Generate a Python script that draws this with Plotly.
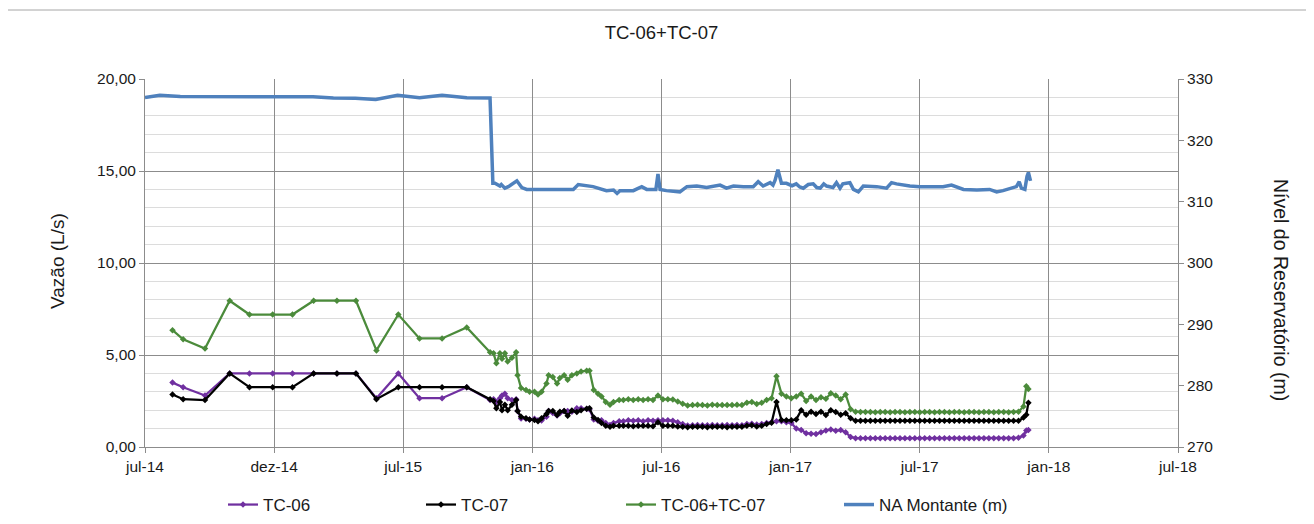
import plotly.graph_objects as go

# ---------------- data ----------------
flow_dates = [
    "2014-08-09", "2014-08-24", "2014-09-24", "2014-10-29", "2014-11-26", "2014-12-29", "2015-01-26", "2015-02-25",
    "2015-03-30", "2015-04-26", "2015-05-25", "2015-06-25", "2015-07-25", "2015-08-26", "2015-09-30", "2015-11-02",
    "2015-11-07", "2015-11-11", "2015-11-16", "2015-11-19", "2015-11-23", "2015-11-27", "2015-12-03", "2015-12-09",
    "2015-12-11", "2015-12-16", "2015-12-23", "2015-12-28", "2016-01-04", "2016-01-09", "2016-01-14", "2016-01-21",
    "2016-01-24", "2016-01-30", "2016-02-05", "2016-02-09", "2016-02-15", "2016-02-20", "2016-02-26", "2016-03-04",
    "2016-03-10", "2016-03-18", "2016-03-22", "2016-03-28", "2016-04-03", "2016-04-08", "2016-04-14", "2016-04-20",
    "2016-04-25", "2016-05-03",
    "2016-05-09", "2016-05-16", "2016-05-23", "2016-05-30", "2016-06-06", "2016-06-13", "2016-06-20", "2016-06-27",
    "2016-07-04", "2016-07-11", "2016-07-18", "2016-07-25", "2016-08-01", "2016-08-08", "2016-08-15", "2016-08-22",
    "2016-08-29", "2016-09-05", "2016-09-12", "2016-09-19", "2016-09-26", "2016-10-03", "2016-10-10", "2016-10-17",
    "2016-10-24", "2016-10-31", "2016-11-07", "2016-11-14", "2016-11-21", "2016-11-28", "2016-12-05", "2016-12-12",
    "2016-12-19", "2016-12-26", "2017-01-02", "2017-01-09", "2017-01-16", "2017-01-23", "2017-01-30", "2017-02-06",
    "2017-02-13", "2017-02-20", "2017-02-27", "2017-03-06", "2017-03-13", "2017-03-20", "2017-03-27", "2017-04-03",
    "2017-04-10", "2017-04-17", "2017-04-24", "2017-05-01", "2017-05-08", "2017-05-15", "2017-05-22", "2017-05-29",
    "2017-06-05", "2017-06-12", "2017-06-19", "2017-06-26", "2017-07-03", "2017-07-10", "2017-07-17", "2017-07-24",
    "2017-07-31", "2017-08-07", "2017-08-14", "2017-08-21", "2017-08-28", "2017-09-04", "2017-09-11", "2017-09-18",
    "2017-09-25", "2017-10-02", "2017-10-09", "2017-10-16", "2017-10-23", "2017-10-30", "2017-11-06", "2017-11-13",
    "2017-11-20", "2017-11-27", "2017-12-01", "2017-12-04",
]

tc06 = [
    3.50, 3.25, 2.80, 4.00, 4.00, 4.00, 4.00, 4.00,
    4.00, 4.00, 2.65, 4.00, 2.65, 2.65, 3.25, 2.55,
    2.60, 2.45, 2.65, 2.80, 2.90, 2.65, 2.55, 2.60,
    1.95, 1.55, 1.54, 1.50, 1.53, 1.45, 1.44, 1.65,
    1.95, 1.85, 1.71, 1.83, 1.95, 1.95, 1.92, 2.10,
    2.10, 2.07, 2.05, 1.50, 1.43, 1.45, 1.30, 1.20,
    1.30, 1.40,
    1.40, 1.45, 1.42, 1.45, 1.40, 1.45, 1.43, 1.45,
    1.45, 1.45, 1.43, 1.35, 1.25, 1.17, 1.18, 1.20,
    1.18, 1.18, 1.20, 1.18, 1.18, 1.20, 1.18, 1.20,
    1.18, 1.25, 1.27, 1.22, 1.25, 1.30, 1.35, 1.40,
    1.40, 1.35, 1.30, 1.00, 0.92, 0.75, 0.72, 0.70,
    0.80, 0.90, 0.95, 0.88, 0.92, 0.80, 0.55, 0.48,
    0.48, 0.47, 0.48, 0.47, 0.48, 0.48, 0.47, 0.48,
    0.48, 0.47, 0.48, 0.48, 0.47, 0.48, 0.48, 0.47,
    0.48, 0.48, 0.47, 0.48, 0.48, 0.47, 0.48, 0.48,
    0.47, 0.48, 0.48, 0.47, 0.48, 0.48, 0.47, 0.48,
    0.50, 0.62, 0.90, 0.92,
]

tc07 = [
    2.85, 2.60, 2.55, 4.00, 3.25, 3.25, 3.25, 4.00,
    4.00, 4.00, 2.60, 3.25, 3.25, 3.25, 3.25, 2.60,
    2.50, 2.10, 2.45, 2.00, 2.30, 2.00, 2.30, 2.55,
    1.95, 1.65, 1.56, 1.50, 1.47, 1.40, 1.56, 1.80,
    1.95, 1.95, 1.74, 1.92, 1.95, 1.70, 1.98, 1.90,
    2.00, 2.08, 2.10, 1.60, 1.47, 1.30, 1.15, 1.10,
    1.15, 1.15,
    1.15, 1.15, 1.13, 1.15, 1.15, 1.15, 1.13, 1.35,
    1.15, 1.15, 1.15, 1.12, 1.10, 1.08, 1.10, 1.10,
    1.10, 1.08, 1.10, 1.10, 1.10, 1.08, 1.10, 1.10,
    1.10, 1.15, 1.18, 1.12, 1.15, 1.25, 1.32, 2.45,
    1.47, 1.45, 1.45, 1.50, 2.00, 1.75, 1.92, 1.80,
    1.92, 1.74, 2.00, 1.90, 1.75, 1.83, 1.56, 1.43,
    1.42, 1.43, 1.42, 1.42, 1.43, 1.42, 1.42, 1.43,
    1.42, 1.42, 1.43, 1.42, 1.42, 1.43, 1.42, 1.42,
    1.43, 1.42, 1.42, 1.43, 1.42, 1.42, 1.43, 1.42,
    1.42, 1.43, 1.42, 1.42, 1.43, 1.42, 1.42, 1.43,
    1.42, 1.60, 1.75, 2.40,
]

tc06_tc07 = [
    6.35, 5.85, 5.35, 7.95, 7.20, 7.20, 7.20, 7.95,
    7.95, 7.95, 5.25, 7.20, 5.90, 5.90, 6.50, 5.15,
    5.10, 4.55, 5.10, 4.80, 5.10, 4.65, 4.85, 5.15,
    3.90, 3.20, 3.10, 3.00, 3.00, 2.85, 3.00, 3.45,
    3.90, 3.80, 3.45, 3.75, 3.90, 3.65, 3.90, 4.00,
    4.10, 4.15, 4.15, 3.10, 2.90, 2.75, 2.45, 2.30,
    2.45, 2.55,
    2.55, 2.60, 2.55, 2.60, 2.55, 2.60, 2.56, 2.80,
    2.60, 2.60, 2.58, 2.47, 2.35, 2.25, 2.28, 2.30,
    2.28, 2.26, 2.30, 2.28, 2.28, 2.28, 2.28, 2.30,
    2.28, 2.40, 2.45, 2.34, 2.40, 2.55, 2.65, 3.85,
    2.90, 2.75, 2.65, 2.75, 2.90, 2.50, 2.75, 2.55,
    2.70, 2.62, 2.92, 2.80, 2.60, 2.85, 2.05, 1.92,
    1.90, 1.90, 1.90, 1.89, 1.90, 1.90, 1.89, 1.90,
    1.90, 1.89, 1.90, 1.90, 1.89, 1.90, 1.90, 1.89,
    1.90, 1.90, 1.89, 1.90, 1.90, 1.89, 1.90, 1.90,
    1.89, 1.90, 1.90, 1.89, 1.90, 1.90, 1.89, 1.90,
    1.92, 2.20, 3.30, 3.15,
]

na_dates = [
    "2014-07-01", "2014-07-22", "2014-08-20", "2014-10-15", "2015-02-24", "2015-03-25", "2015-04-25", "2015-05-24",
    "2015-06-24", "2015-07-25", "2015-08-26", "2015-09-30", "2015-11-02", "2015-11-06", "2015-11-09", "2015-11-16",
    "2015-11-18", "2015-11-23", "2015-11-28", "2015-12-10", "2015-12-17", "2015-12-24", "2016-02-28", "2016-03-06",
    "2016-03-18", "2016-03-27", "2016-04-15", "2016-04-25", "2016-04-30", "2016-05-04", "2016-05-23", "2016-06-04",
    "2016-06-11", "2016-06-24", "2016-06-27", "2016-06-30", "2016-07-09", "2016-07-28", "2016-08-07", "2016-08-21",
    "2016-09-04", "2016-09-23", "2016-10-02", "2016-10-12", "2016-10-26", "2016-11-09", "2016-11-16", "2016-11-23",
    "2016-12-03", "2016-12-07", "2016-12-10", "2016-12-14", "2016-12-19", "2016-12-26", "2017-01-03", "2017-01-09",
    "2017-01-14", "2017-01-19", "2017-01-26", "2017-02-02", "2017-02-07", "2017-02-12", "2017-02-17", "2017-02-21",
    "2017-03-02", "2017-03-07", "2017-03-12", "2017-03-16", "2017-03-21", "2017-03-26", "2017-03-31", "2017-04-07",
    "2017-04-14", "2017-04-23", "2017-05-03", "2017-05-17", "2017-05-24", "2017-05-31", "2017-06-19", "2017-07-03",
    "2017-08-05", "2017-08-17", "2017-09-03", "2017-09-22", "2017-10-10", "2017-10-20", "2017-10-29", "2017-11-17",
    "2017-11-21", "2017-11-24", "2017-11-29", "2017-12-02", "2017-12-04", "2017-12-07",
]

na_montante = [
    327.00, 327.35, 327.15, 327.10, 327.10, 326.90, 326.85, 326.65,
    327.35, 326.95, 327.35, 326.95, 326.90, 313.00, 313.00, 312.55,
    312.80, 312.20, 312.45, 313.40, 312.30, 312.00, 312.00, 312.80,
    312.55, 312.45, 311.80, 311.90, 311.35, 311.80, 311.80, 312.45,
    312.00, 312.00, 314.50, 312.00, 311.80, 311.60, 312.45, 312.55,
    312.30, 312.70, 312.20, 312.55, 312.45, 312.45, 313.25, 312.55,
    313.10, 312.70, 313.50, 315.20, 313.00, 313.00, 312.60, 312.90,
    312.40, 312.20, 312.80, 312.90, 312.30, 312.20, 312.90, 312.55,
    312.30, 313.10, 312.20, 312.90, 313.00, 313.10, 312.00, 311.60,
    312.55, 312.55, 312.45, 312.20, 313.10, 312.90, 312.55, 312.45,
    312.45, 312.70, 312.00, 311.90, 312.00, 311.60, 311.80, 312.45,
    313.25, 312.20, 312.00, 314.10, 314.75, 313.40,
]

x_tick_vals = ["2014-07-01", "2014-12-31", "2015-07-02", "2016-01-01", "2016-07-02",
               "2017-01-01", "2017-07-03", "2018-01-02", "2018-07-04"]
x_tick_text = ["jul-14", "dez-14", "jul-15", "jan-16", "jul-16", "jan-17", "jul-17", "jan-18", "jul-18"]
y_tick_vals = [0, 5, 10, 15, 20]
y_tick_text = ["0,00", "5,00", "10,00", "15,00", "20,00"]
y2_tick_vals = [270, 280, 290, 300, 310, 320, 330]
y2_tick_text = ["270", "280", "290", "300", "310", "320", "330"]

# ---------------- figure ----------------
FONT = "Liberation Sans, Arial, sans-serif"
TXT = "#1a1a1a"
AXIS = "#8c8c8c"
MINOR = "#dcdcdc"

fig = go.Figure()
fig.add_trace(go.Scatter(x=flow_dates, y=tc06, name="TC-06", mode="lines+markers",
                         line=dict(color="#7030A0", width=2.25),
                         marker=dict(symbol="diamond", size=5, color="#7030A0"),
                         legend="legend"))
fig.add_trace(go.Scatter(x=flow_dates, y=tc07, name="TC-07", mode="lines+markers",
                         line=dict(color="#000000", width=2.25),
                         marker=dict(symbol="diamond", size=5, color="#000000"),
                         legend="legend2"))
fig.add_trace(go.Scatter(x=flow_dates, y=tc06_tc07, name="TC-06+TC-07", mode="lines+markers",
                         line=dict(color="#4B8B3B", width=2.25),
                         marker=dict(symbol="diamond", size=5, color="#4B8B3B"),
                         legend="legend3"))
fig.add_trace(go.Scatter(x=na_dates, y=na_montante, name="NA Montante (m)", mode="lines",
                         line=dict(color="#4F81BD", width=3.5), yaxis="y2",
                         legend="legend4"))

# page body has an 8px default margin: the figure is offset by (8, 8)
OX, OY = 8, 8
W, H = 1306, 516
L, T = 145 - OX, 79 - OY
pw, ph = 1178 - 145, 447 - 79
R = W - L - pw
B = H - T - ph


def px(xp):
    return (xp - OX - L) / pw


def py(yp):
    return (T + ph - (yp - OY)) / ph


leg_y = py(505)
leg_common = dict(orientation="h", yanchor="middle", xanchor="left", y=leg_y,
                  font=dict(family=FONT, size=17, color=TXT), bgcolor="rgba(0,0,0,0)")

fig.update_layout(
    width=W, height=H,
    margin=dict(l=L, r=R, t=T, b=B, autoexpand=False),
    paper_bgcolor="white", plot_bgcolor="white",
    font=dict(family=FONT, size=15, color=TXT),
    title=dict(text="TC-06+TC-07", x=0.5, xref="paper", xanchor="center",
               y=1 - (33 - OY) / H, yref="container", yanchor="middle",
               font=dict(family=FONT, size=18.5, color=TXT)),
    xaxis=dict(type="date", range=["2014-07-01", "2018-07-04"],
               tickmode="array", tickvals=x_tick_vals, ticktext=x_tick_text,
               showgrid=True, gridcolor=AXIS, gridwidth=1,
               showline=True, linecolor=AXIS, linewidth=1,
               ticks="outside", ticklen=5, tickcolor=AXIS,
               tickfont=dict(family=FONT, size=15.5, color=TXT), zeroline=False),
    yaxis=dict(range=[0, 20], tickmode="array", tickvals=y_tick_vals, ticktext=y_tick_text,
               showgrid=True, gridcolor=AXIS, gridwidth=1,
               minor=dict(tickmode="linear", tick0=0, dtick=1, showgrid=True,
                          gridcolor=MINOR, gridwidth=1, ticks=""),
               showline=True, linecolor=AXIS, linewidth=1,
               ticks="outside", ticklen=5, tickcolor=AXIS,
               tickfont=dict(family=FONT, size=15.5, color=TXT), zeroline=False),
    yaxis2=dict(range=[270, 330], overlaying="y", side="right",
                tickmode="array", tickvals=y2_tick_vals, ticktext=y2_tick_text,
                showgrid=False, showline=True, linecolor=AXIS, linewidth=1,
                ticks="outside", ticklen=5, tickcolor=AXIS,
                tickfont=dict(family=FONT, size=15.5, color=TXT), zeroline=False),
    legend=dict(x=px(223), **leg_common),
    legend2=dict(x=px(421), **leg_common),
    legend3=dict(x=px(621), **leg_common),
    legend4=dict(x=px(839), **leg_common),
    annotations=[
        dict(text="Vazão (L/s)", xref="paper", yref="paper", x=px(57), y=py(261),
             textangle=-90, showarrow=False, xanchor="center", yanchor="middle",
             font=dict(family=FONT, size=19, color=TXT)),
        dict(text="Nível do Reservatório (m)", xref="paper", yref="paper", x=px(1281), y=py(290),
             textangle=90, showarrow=False, xanchor="center", yanchor="middle",
             font=dict(family=FONT, size=19.5, color=TXT)),
    ],
    shapes=[
        dict(type="rect", xref="paper", yref="paper", x0=px(7), x1=px(1330), y0=py(540), y1=py(10),
             line=dict(color="#a6a6a6", width=1), fillcolor="rgba(0,0,0,0)", layer="below"),
    ],
    showlegend=True,
)

fig.write_html("out.html")
